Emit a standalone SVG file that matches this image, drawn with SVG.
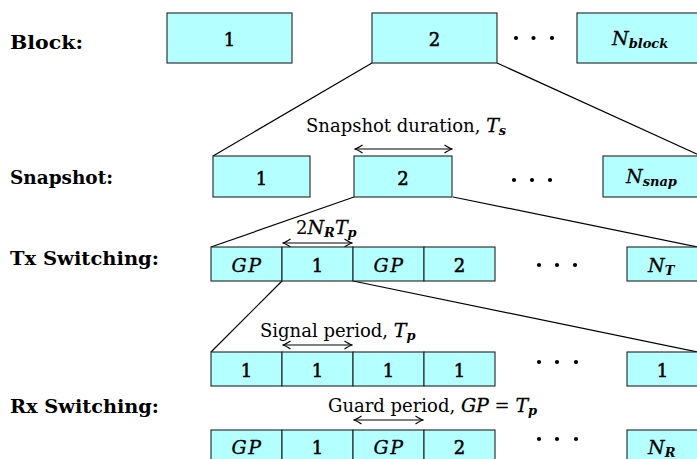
<svg xmlns="http://www.w3.org/2000/svg" width="697" height="459" viewBox="0 0 697 459">
<style>
.box{fill:#b4ffff;stroke:#222;stroke-width:1.1}
.lbl{font-family:"DejaVu Serif",serif;font-weight:bold;font-size:18px;fill:#000}
.num{font-family:"DejaVu Serif",serif;font-size:18px;fill:#000;stroke:#000;stroke-width:0.55px;text-anchor:middle}
.txt{font-family:"DejaVu Serif",serif;font-size:18px;fill:#000}
.mi{font-family:"DejaVu Serif",serif;font-style:italic;font-weight:normal;font-size:19px;stroke:#000;stroke-width:0.3px}
.gp{letter-spacing:1.5px}
.sub{font-family:"DejaVu Serif",serif;font-style:italic;font-weight:bold;font-size:13px;stroke:none}
.ln{stroke:#000;stroke-width:1.2;fill:none}
.dot{fill:#000}
</style>
<defs>
<marker id="ah" viewBox="-9 -5 10 10" refX="0" refY="0" markerWidth="10" markerHeight="10" markerUnits="userSpaceOnUse" orient="auto-start-reverse">
<path d="M-7.5,-4 Q-2.5,-0.7 0,0 Q-2.5,0.7 -7.5,4" fill="none" stroke="#000" stroke-width="1.2"/>
</marker>
</defs>

<g id="row-labels">
<text class="lbl" x="10" y="49" textLength="73" lengthAdjust="spacingAndGlyphs">Block:</text>
<text class="lbl" x="10" y="184" textLength="103" lengthAdjust="spacingAndGlyphs">Snapshot:</text>
<text class="lbl" x="10" y="265" textLength="149" lengthAdjust="spacingAndGlyphs">Tx Switching:</text>
<text class="lbl" x="10" y="413" textLength="149" lengthAdjust="spacingAndGlyphs">Rx Switching:</text>
</g>

<g id="connectors">
<line class="ln" x1="372" y1="63" x2="213" y2="156"/>
<line class="ln" x1="497" y1="63" x2="701" y2="156"/>
<line class="ln" x1="354" y1="197" x2="211" y2="247"/>
<line class="ln" x1="453" y1="197" x2="698" y2="247"/>
<line class="ln" x1="282" y1="281" x2="211" y2="352"/>
<line class="ln" x1="353" y1="281" x2="698" y2="352"/>
<line class="ln" x1="355" y1="149" x2="452" y2="149" marker-start="url(#ah)" marker-end="url(#ah)"/>
<line class="ln" x1="283" y1="243" x2="352" y2="243" marker-start="url(#ah)" marker-end="url(#ah)"/>
<line class="ln" x1="283" y1="345" x2="352" y2="345" marker-start="url(#ah)" marker-end="url(#ah)"/>
<line class="ln" x1="354" y1="420" x2="423" y2="420" marker-start="url(#ah)" marker-end="url(#ah)"/>
</g>

<g id="block-1"><rect class="box" x="167" y="13" width="125" height="50"/><text class="num" x="229.5" y="46">1</text></g>
<g id="block-2"><rect class="box" x="372" y="13" width="125" height="50"/><text class="num" x="434.5" y="46">2</text></g>
<g id="block-dots"><circle class="dot" cx="516" cy="38" r="2.1"/><circle class="dot" cx="533.5" cy="38" r="2.1"/><circle class="dot" cx="552" cy="38" r="2.1"/></g>
<g id="block-n"><rect class="box" x="577" y="13" width="125" height="50"/><text x="612" y="45" class="mi">N<tspan class="sub" dy="3">block</tspan></text></g>

<g id="snap-1"><rect class="box" x="213" y="156" width="97" height="41"/><text class="num" x="261.5" y="185">1</text></g>
<g id="snap-2"><rect class="box" x="354" y="156" width="98" height="41"/><text class="num" x="403" y="185">2</text></g>
<g id="snap-dots"><circle class="dot" cx="514" cy="180" r="2.1"/><circle class="dot" cx="532" cy="180" r="2.1"/><circle class="dot" cx="550" cy="180" r="2.1"/></g>
<g id="snap-n"><rect class="box" x="603" y="156" width="98" height="41"/><text x="626" y="183" class="mi">N<tspan class="sub" dy="3">snap</tspan></text></g>

<g id="tx-gp1"><rect class="box" x="211" y="247" width="71" height="34"/><text class="num mi gp" x="247" y="272">GP</text></g>
<g id="tx-1"><rect class="box" x="282" y="247" width="71" height="34"/><text class="num" x="317.5" y="272">1</text></g>
<g id="tx-gp2"><rect class="box" x="353" y="247" width="71" height="34"/><text class="num mi gp" x="389" y="272">GP</text></g>
<g id="tx-2"><rect class="box" x="424" y="247" width="71" height="34"/><text class="num" x="459.5" y="272">2</text></g>
<g id="tx-dots"><circle class="dot" cx="539" cy="265" r="2.1"/><circle class="dot" cx="557" cy="265" r="2.1"/><circle class="dot" cx="575" cy="265" r="2.1"/></g>
<g id="tx-n"><rect class="box" x="627" y="247" width="71" height="34"/><text x="648" y="272" class="mi">N<tspan class="sub" dy="3">T</tspan></text></g>

<g id="rx1-1a"><rect class="box" x="211" y="352" width="71" height="34"/><text class="num" x="246.5" y="377">1</text></g>
<g id="rx1-1b"><rect class="box" x="282" y="352" width="71" height="34"/><text class="num" x="317.5" y="377">1</text></g>
<g id="rx1-1c"><rect class="box" x="353" y="352" width="71" height="34"/><text class="num" x="388.5" y="377">1</text></g>
<g id="rx1-1d"><rect class="box" x="424" y="352" width="71" height="34"/><text class="num" x="459.5" y="377">1</text></g>
<g id="rx1-dots"><circle class="dot" cx="539" cy="362" r="2.1"/><circle class="dot" cx="557" cy="362" r="2.1"/><circle class="dot" cx="576" cy="362" r="2.1"/></g>
<g id="rx1-n"><rect class="box" x="627" y="352" width="71" height="34"/><text class="num" x="662.5" y="377">1</text></g>

<g id="rx2-gp1"><rect class="box" x="211" y="430" width="71" height="34"/><text class="num mi gp" x="247" y="454">GP</text></g>
<g id="rx2-1"><rect class="box" x="282" y="430" width="71" height="34"/><text class="num" x="317.5" y="454">1</text></g>
<g id="rx2-gp2"><rect class="box" x="353" y="430" width="71" height="34"/><text class="num mi gp" x="389" y="454">GP</text></g>
<g id="rx2-2"><rect class="box" x="424" y="430" width="71" height="34"/><text class="num" x="459.5" y="454">2</text></g>
<g id="rx2-dots"><circle class="dot" cx="539" cy="439" r="2.1"/><circle class="dot" cx="557" cy="439" r="2.1"/><circle class="dot" cx="576" cy="439" r="2.1"/></g>
<g id="rx2-n"><rect class="box" x="627" y="430" width="71" height="34"/><text x="648" y="454" class="mi">N<tspan class="sub" dy="3">R</tspan></text></g>

<g id="annotations">
<text class="txt" x="306" y="132">Snapshot duration, <tspan class="mi">T</tspan><tspan class="sub" dy="3">s</tspan></text>
<text class="txt" x="296" y="234">2<tspan class="mi">N</tspan><tspan class="sub" dy="3">R</tspan><tspan class="mi" dy="-3">T</tspan><tspan class="sub" dy="3">p</tspan></text>
<text class="txt" x="260" y="337">Signal period, <tspan class="mi">T</tspan><tspan class="sub" dy="3">p</tspan></text>
<text class="txt" x="328" y="412">Guard period, <tspan class="mi">GP</tspan> = <tspan class="mi">T</tspan><tspan class="sub" dy="3">p</tspan></text>
</g>
</svg>
